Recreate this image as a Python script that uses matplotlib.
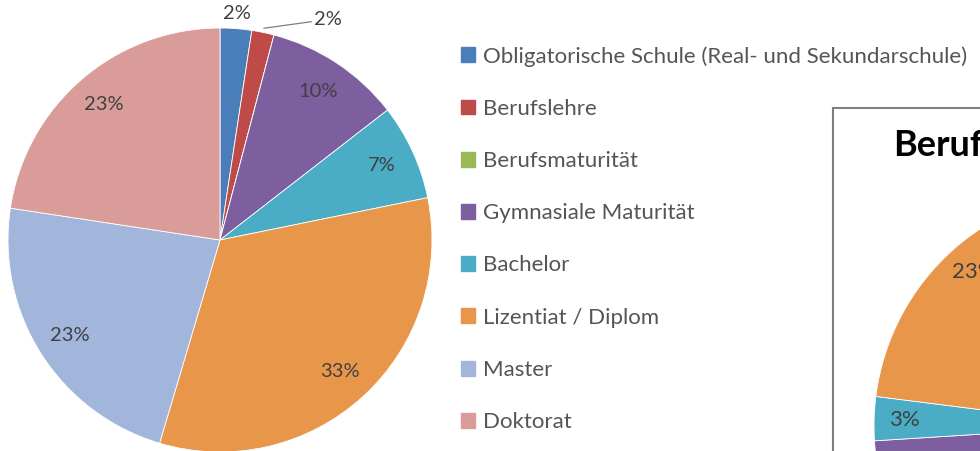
import numpy as np
import matplotlib
matplotlib.use("Agg")
import matplotlib.pyplot as plt
from matplotlib.patches import Rectangle

plt.rcParams['font.family'] = ['Lato', 'DejaVu Sans']

# ---------------- data ----------------
categories = ["Obligatorische Schule (Real- und Sekundarschule)", "Berufslehre",
              "Berufsmaturität", "Gymnasiale Maturität", "Bachelor",
              "Lizentiat / Diplom", "Master", "Doktorat"]
main_values = [2.4, 1.7, 0.0, 10.4, 7.3, 32.8, 22.8, 22.6]
colors = ["#4A7EBB", "#BE4B48", "#98B954", "#7D5FA0", "#4AACC5",
          "#E8964A", "#A2B6DB", "#D99C99"]

inset_title = "Berufsmaturität"
# visible slices of the cropped inset pie (purple = remaining share, mostly off-screen)
inset_categories = ["Gymnasiale Maturität", "Bachelor", "Lizentiat / Diplom"]
inset_values = [74, 3, 23]
inset_colors = ["#7D5FA0", "#4AACC5", "#E8964A"]
inset_labelled = ["Bachelor", "Lizentiat / Diplom"]

W, H = 980, 451
fig = plt.figure(figsize=(W / 100, H / 100), dpi=100)

def px_axes(cx, cy, r, z=1):
    a = fig.add_axes([(cx - r) / W, (H - cy - r) / H, 2 * r / W, 2 * r / H])
    a.set_zorder(z)
    return a

label_col = "#404040"

# ---------------- main pie ----------------
ax = px_axes(220, 240, 212)
wedges, _ = ax.pie(main_values, colors=colors, startangle=90, counterclock=False,
                   radius=1.0, wedgeprops=dict(edgecolor="white", linewidth=0.6))
ax.set_xlim(-1, 1); ax.set_ylim(-1, 1); ax.set_aspect("equal"); ax.axis("off")
for i, (w, v) in enumerate(zip(wedges, main_values)):
    if v <= 0:
        continue
    mid = np.deg2rad((w.theta1 + w.theta2) / 2)
    txt = f"{v:.0f}%"
    if v >= 3:
        ax.text(0.84 * np.cos(mid), 0.84 * np.sin(mid), txt, ha="center", va="center",
                fontsize=14.5, color=label_col, clip_on=False)
    elif i == 0:
        ax.text(1.07 * np.cos(mid), 1.07 * np.sin(mid), txt, ha="center", va="center",
                fontsize=14.5, color=label_col, clip_on=False)
    else:
        lab = mid - np.deg2rad(10)
        ax.annotate(txt, xy=(1.02 * np.cos(mid), 1.02 * np.sin(mid)),
                    xytext=(1.12 * np.cos(lab) + 0.03, 1.12 * np.sin(lab)),
                    ha="left", va="center", fontsize=14.5, color=label_col,
                    arrowprops=dict(arrowstyle="-", color="#7f7f7f", lw=0.9,
                                    shrinkA=0, shrinkB=0),
                    annotation_clip=False)

# ---------------- legend ----------------
handles = [Rectangle((0, 0), 1, 1, color=c) for c in colors]
leg = fig.legend(handles, categories, loc="upper left",
                 bbox_to_anchor=(461 / W, 1 - 46 / H), frameon=False,
                 fontsize=16, labelcolor="#555555", handlelength=0.65,
                 handleheight=0.65, handletextpad=0.35, labelspacing=1.45,
                 borderaxespad=0, borderpad=0)

# ---------------- inset chart (cropped) ----------------
box = Rectangle((833 / W, -0.05), 0.5, (H - 108) / H + 0.05, transform=fig.transFigure,
                facecolor="white", edgecolor="#7f7f7f", linewidth=1.5, zorder=0.5)
fig.add_artist(box)
fig.text(893 / W, 1 - 145 / H, inset_title, fontsize=26, fontweight="bold",
         color="black", ha="left", va="center", zorder=2)

ax2 = px_axes(1110, 426, 236, z=1)
w2, _ = ax2.pie(inset_values, colors=inset_colors, startangle=90, counterclock=False,
                radius=1.0, wedgeprops=dict(edgecolor="white", linewidth=0.6))
ax2.set_xlim(-1, 1); ax2.set_ylim(-1, 1); ax2.set_aspect("equal"); ax2.axis("off")
for w, v, c in zip(w2, inset_values, inset_categories):
    if c not in inset_labelled:
        continue
    mid = np.deg2rad((w.theta1 + w.theta2) / 2)
    ax2.text(0.87 * np.cos(mid), 0.87 * np.sin(mid), f"{v}%", ha="center",
             va="center", fontsize=16, color=label_col)

fig.savefig("out.png", dpi=100)
